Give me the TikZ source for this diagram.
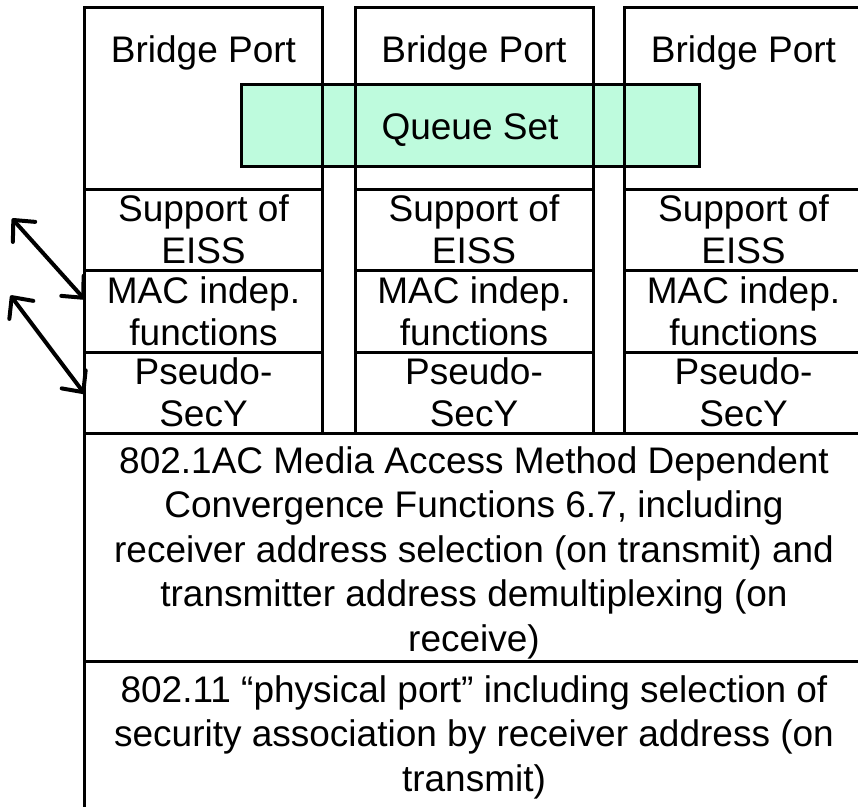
\documentclass[tikz,border=0pt]{standalone}
\usepackage{fontspec}
\setmainfont{Liberation Sans}
\usetikzlibrary{arrows.meta}
\definecolor{queuefill}{RGB}{190,251,221}
\begin{document}
\begin{tikzpicture}[x=1pt, y=-1pt,
  box/.style={draw=black, line width=3pt, rectangle, inner sep=0pt,
    outer sep=0pt, anchor=north west, minimum width=238pt},
  portbox/.style={box, minimum height=182pt},
  layerbox/.style={box, minimum height=81.5pt},
  widebox/.style={box, minimum width=779pt},
  % multi-line labels are placed by the baseline of their last line
  lbl/.style={font=\fontsize{37}{42}\selectfont, align=center, anchor=base,
    inner sep=0pt, text=black},
  widelbl/.style={lbl, font=\fontsize{37}{44.5}\selectfont},
  barb/.tip={Straight Barb[length=16pt, width=30pt, line width=4pt, round]},
  link/.style={line width=4pt, line cap=round, {barb}-{barb}}
]
\useasboundingbox (0,0) rectangle (858,806);
\fill[white] (0,0) rectangle (858,806);
\clip (0,0) rectangle (858,806);

% shared queue set, behind the bridge port outlines
\node[box, fill=queuefill, minimum width=458.5pt, minimum height=81.5pt] (qs) at (241,84.5) {};
\node[lbl] (qst) at (470,139.5) {Queue Set};

% three protocol stacks
\foreach \i/\x in {1/84.5, 2/355, 3/624.5} {
  \node[portbox]  (bp\i) at (\x,7) {};
  \node[layerbox] (ss\i) at (\x,189) {};
  \node[layerbox] (mi\i) at (\x,270.5) {};
  \node[layerbox] (ps\i) at (\x,352) {};
  \node[lbl] (bp\i t) at ([xshift=119pt]\x,62.7) {Bridge Port};
  \node[lbl] (ss\i t) at ([xshift=119pt]\x,263.5) {Support of\\EISS};
  \node[lbl] (mi\i t) at ([xshift=119pt]\x,345.5) {MAC indep.\\functions};
  \node[lbl] (ps\i t) at ([xshift=119pt]\x,426.5) {Pseudo-\\SecY};
}

% common lower layers
\node[widebox, minimum height=228pt] (cf) at (84.5,433.5) {};
\node[widelbl] (cft) at (474,651.3)
  {802.1AC Media Access Method Dependent\\Convergence Functions 6.7, including\\receiver address selection (on transmit) and\\transmitter address demultiplexing (on\\receive)};
\node[widebox, minimum height=240pt] (pp) at (84.5,661.5) {};
\node[widelbl] (ppt) at (474,791.3)
  {802.11 “physical port” including selection of\\security association by receiver address (on\\transmit)};

% service access arrows
\coordinate (a1) at (12,218.5);
\coordinate (a2) at (10.5,295.5);
\draw[link] (a1) -- ([yshift=12pt]mi1.west);
\draw[link] (a2) -- ([yshift=-1pt]ps1.west);
\end{tikzpicture}
\end{document}
